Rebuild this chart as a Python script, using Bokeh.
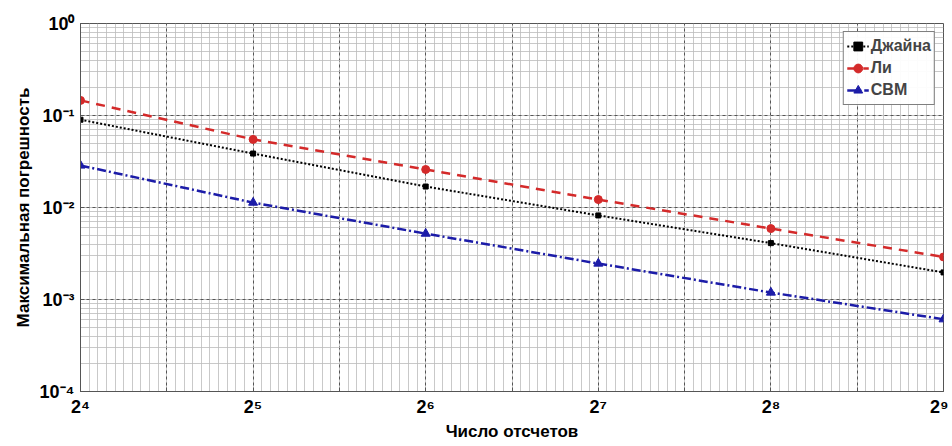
import numpy as np
from bokeh.plotting import figure
from bokeh.models import FixedTicker, CustomJSTickFormatter, Legend, LegendItem, LogTicker
from bokeh.embed import file_html
from bokeh.resources import INLINE

# data
samples = [16, 32, 64, 128, 256, 512]
jain = [0.090, 0.0386, 0.0169, 0.0082, 0.0041, 0.00197]
li = [0.146, 0.055, 0.0259, 0.0122, 0.0059, 0.0029]
svm = [0.0286, 0.0113, 0.0052, 0.00246, 0.00119, 0.00061]
series_names = ["Джайна", "Ли", "СВМ"]
x_label = "Число отсчетов"
y_label = "Максимальная погрешность"

xe = np.log2(samples)

p = figure(width=948, height=446, x_range=(4, 9), y_range=(1e-4, 1),
           y_axis_type="log", output_backend="svg", toolbar_location=None,
           min_border_left=80, min_border_right=5, min_border_top=23, min_border_bottom=55)

major_x = [4 + 0.5 * i for i in range(11)]
minor_x = [4 + 0.05 * i for i in range(101)]
p.xaxis.ticker = FixedTicker(ticks=major_x, minor_ticks=minor_x)
p.yaxis.ticker = LogTicker(num_minor_ticks=10)
p.xaxis.formatter = CustomJSTickFormatter(code="""
const k = Math.round(tick);
if (Math.abs(tick - k) > 1e-6) return "";
const sup = "⁰¹²³⁴⁵⁶⁷⁸⁹";
return "2" + sup[k];
""")
p.yaxis.formatter = CustomJSTickFormatter(code="""
const e = Math.round(Math.log10(tick));
const sup = "⁰¹²³⁴⁵⁶⁷⁸⁹";
return "10" + (e < 0 ? "⁻" : "") + sup[Math.abs(e)];
""")

for ax in (p.xaxis[0], p.yaxis[0]):
    ax.major_label_text_font = "Liberation Sans"
    ax.major_label_text_font_style = "bold"
    ax.major_label_text_font_size = "18px"
    ax.major_label_text_color = "black"
    ax.axis_label_text_font = "Liberation Sans"
    ax.axis_label_text_font_style = "bold"
    ax.axis_label_text_font_size = "17px"
    ax.axis_label_text_color = "black"
    ax.axis_line_color = "#555555"
    ax.major_tick_in = 4
    ax.major_tick_out = 0
    ax.minor_tick_in = 0
    ax.minor_tick_out = 0
    ax.major_tick_line_color = "#555555"
p.xaxis.axis_label = x_label
p.yaxis.axis_label = y_label
p.xaxis.major_label_standoff = 5
p.xaxis.axis_label_standoff = 2
p.yaxis.major_label_standoff = 6
p.yaxis.axis_label_standoff = 4

p.outline_line_color = "#555555"

for g in (p.xgrid[0], p.ygrid[0]):
    g.grid_line_color = "#555555"
    g.grid_line_dash = "3 3"
    g.grid_line_width = 1
    g.minor_grid_line_color = "#bbbbbb"
    g.minor_grid_line_alpha = 0.8
    g.minor_grid_line_width = 1

l1 = p.line(xe, jain, line_color="black", line_width=2, line_dash="2 2")
m1 = p.scatter(xe, jain, marker="square", size=5, color="black")
l2 = p.line(xe, li, line_color="#d42a2a", line_width=2.5, line_dash="9 7")
m2 = p.scatter(xe, li, marker="circle", size=8, color="#d42a2a")
l3 = p.line(xe, svm, line_color="#1c1ca8", line_width=2.5, line_dash="9 3 2 3")
m3 = p.scatter(xe, svm, marker="triangle", size=9, color="#1c1ca8")

legend = Legend(items=[LegendItem(label=series_names[0], renderers=[l1, m1]),
                       LegendItem(label=series_names[1], renderers=[l2, m2]),
                       LegendItem(label=series_names[2], renderers=[l3, m3])],
                location="top_right")
legend.label_text_font = "Liberation Sans"
legend.label_text_font_style = "bold"
legend.label_text_font_size = "16px"
legend.border_line_color = "black"
legend.border_line_width = 1
legend.padding = 3
legend.spacing = 0
legend.margin = 8
legend.glyph_width = 22
legend.glyph_height = 22
legend.label_height = 22
legend.label_standoff = 2
p.add_layout(legend)

open("out.html", "w").write(file_html(p, INLINE))
